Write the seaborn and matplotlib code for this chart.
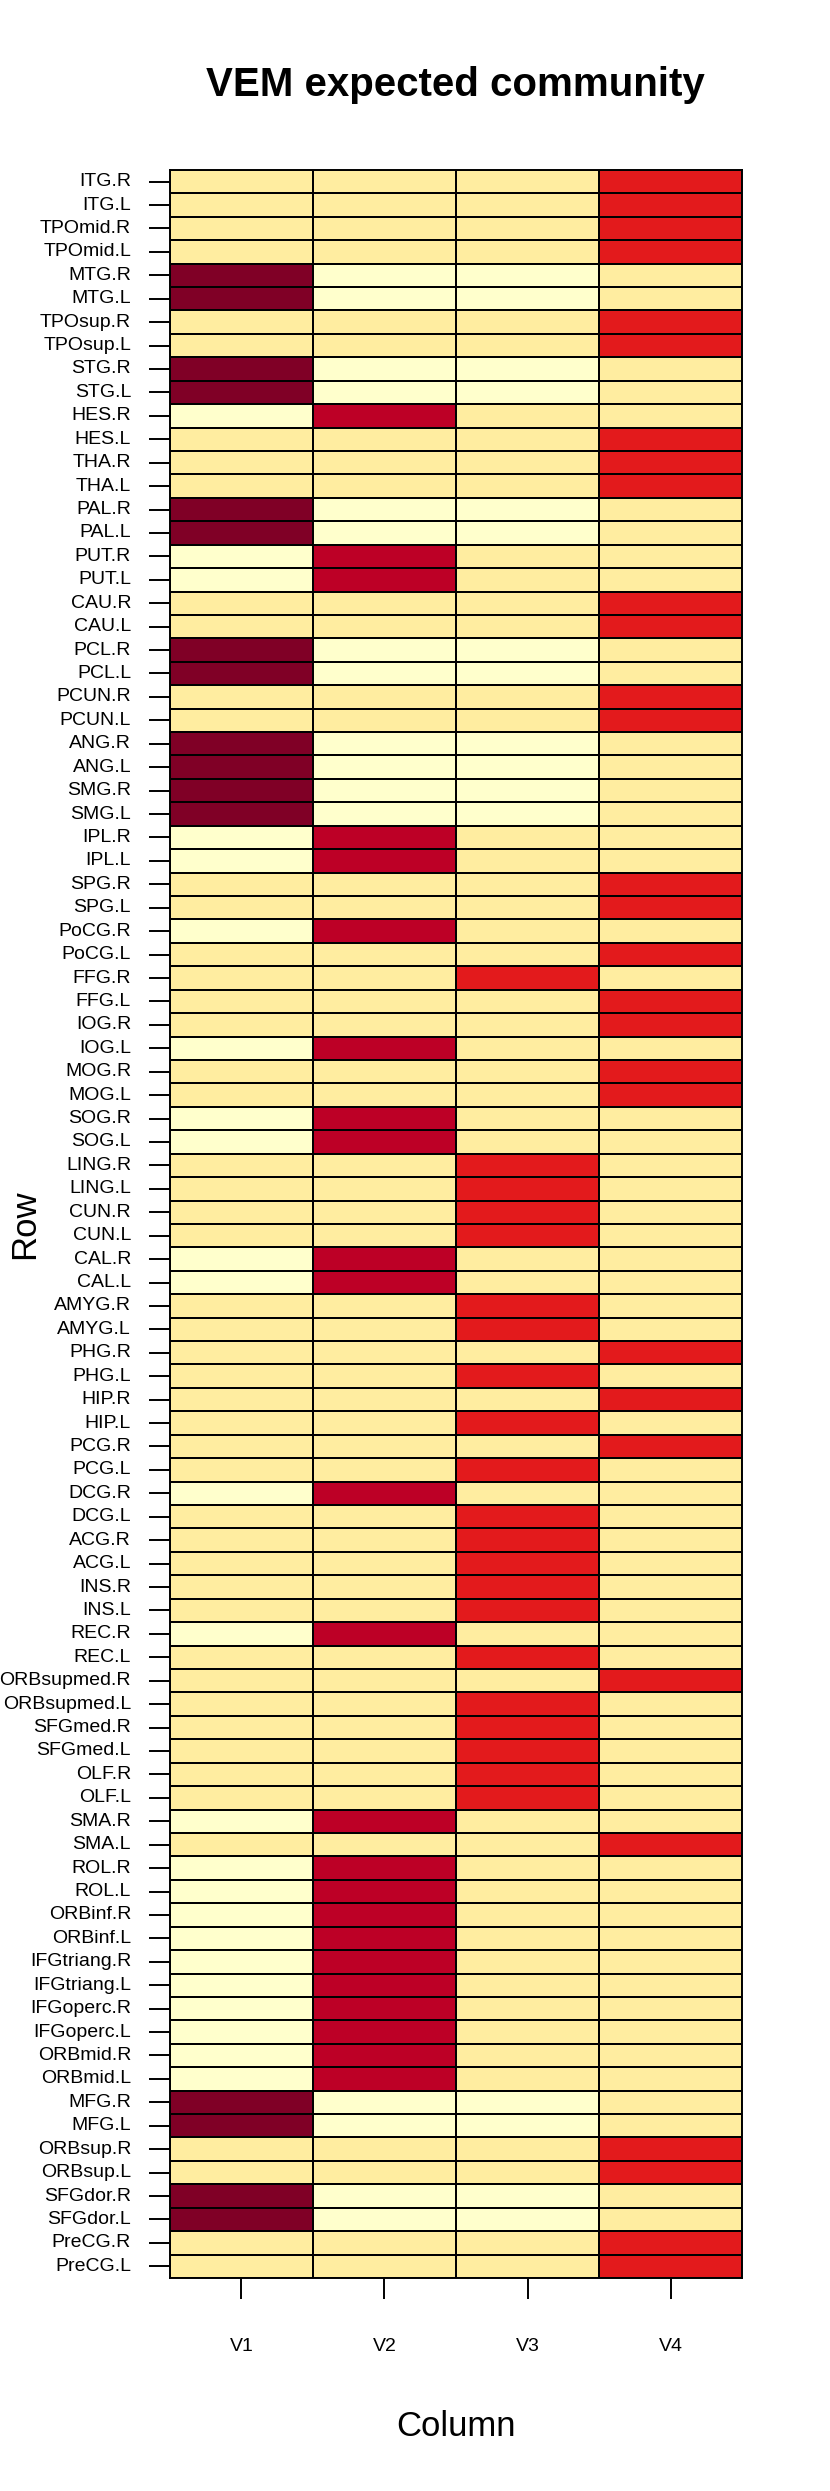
import pandas as pd
import matplotlib.pyplot as plt
import seaborn as sns
from matplotlib.colors import ListedColormap

# 행 라벨 (AAL 90 영역)
rows = ['ITG.R', 'ITG.L', 'TPOmid.R', 'TPOmid.L', 'MTG.R', 'MTG.L', 'TPOsup.R', 'TPOsup.L', 'STG.R', 'STG.L',
        'HES.R', 'HES.L', 'THA.R', 'THA.L', 'PAL.R', 'PAL.L', 'PUT.R', 'PUT.L', 'CAU.R', 'CAU.L',
        'PCL.R', 'PCL.L', 'PCUN.R', 'PCUN.L', 'ANG.R', 'ANG.L', 'SMG.R', 'SMG.L', 'IPL.R', 'IPL.L',
        'SPG.R', 'SPG.L', 'PoCG.R', 'PoCG.L', 'FFG.R', 'FFG.L', 'IOG.R', 'IOG.L', 'MOG.R', 'MOG.L',
        'SOG.R', 'SOG.L', 'LING.R', 'LING.L', 'CUN.R', 'CUN.L', 'CAL.R', 'CAL.L', 'AMYG.R', 'AMYG.L',
        'PHG.R', 'PHG.L', 'HIP.R', 'HIP.L', 'PCG.R', 'PCG.L', 'DCG.R', 'DCG.L', 'ACG.R', 'ACG.L',
        'INS.R', 'INS.L', 'REC.R', 'REC.L', 'ORBsupmed.R', 'ORBsupmed.L', 'SFGmed.R', 'SFGmed.L', 'OLF.R', 'OLF.L',
        'SMA.R', 'SMA.L', 'ROL.R', 'ROL.L', 'ORBinf.R', 'ORBinf.L', 'IFGtriang.R', 'IFGtriang.L', 'IFGoperc.R', 'IFGoperc.L',
        'ORBmid.R', 'ORBmid.L', 'MFG.R', 'MFG.L', 'ORBsup.R', 'ORBsup.L', 'SFGdor.R', 'SFGdor.L', 'PreCG.R', 'PreCG.L']

cols = ['V1', 'V2', 'V3', 'V4']

# 열별 값
v1 = [.15, .15, .15, .15, .95, .95, .15, .15, .95, .95,
      .05, .15, .15, .15, .95, .95, .05, .05, .15, .15,
      .95, .95, .15, .15, .95, .95, .95, .95, .05, .05,
      .15, .15, .05, .15, .15, .15, .15, .05, .15, .15,
      .05, .05, .15, .15, .15, .15, .05, .05, .15, .15,
      .15, .15, .15, .15, .15, .15, .05, .15, .15, .15,
      .15, .15, .05, .15, .15, .15, .15, .15, .15, .15,
      .05, .15, .05, .05, .05, .05, .05, .05, .05, .05,
      .05, .05, .95, .95, .15, .15, .95, .95, .15, .15]
v2 = [.15, .15, .15, .15, .05, .05, .15, .15, .05, .05,
      .83, .15, .15, .15, .05, .05, .83, .83, .15, .15,
      .05, .05, .15, .15, .05, .05, .05, .05, .83, .83,
      .15, .15, .83, .15, .15, .15, .15, .83, .15, .15,
      .83, .83, .15, .15, .15, .15, .83, .83, .15, .15,
      .15, .15, .15, .15, .15, .15, .83, .15, .15, .15,
      .15, .15, .83, .15, .15, .15, .15, .15, .15, .15,
      .83, .15, .83, .83, .83, .83, .83, .83, .83, .83,
      .83, .83, .05, .05, .15, .15, .05, .05, .15, .15]
v3 = [.15, .15, .15, .15, .05, .05, .15, .15, .05, .05,
      .15, .15, .15, .15, .05, .05, .15, .15, .15, .15,
      .05, .05, .15, .15, .05, .05, .05, .05, .15, .15,
      .15, .15, .15, .15, .72, .15, .15, .15, .15, .15,
      .15, .15, .72, .72, .72, .72, .15, .15, .72, .72,
      .15, .72, .15, .72, .15, .72, .15, .72, .72, .72,
      .72, .72, .15, .72, .15, .72, .72, .72, .72, .72,
      .15, .15, .15, .15, .15, .15, .15, .15, .15, .15,
      .15, .15, .05, .05, .15, .15, .05, .05, .15, .15]
v4 = [.72, .72, .72, .72, .15, .15, .72, .72, .15, .15,
      .15, .72, .72, .72, .15, .15, .15, .15, .72, .72,
      .15, .15, .72, .72, .15, .15, .15, .15, .15, .15,
      .72, .72, .15, .72, .15, .72, .72, .15, .72, .72,
      .15, .15, .15, .15, .15, .15, .15, .15, .15, .15,
      .72, .15, .72, .15, .72, .15, .15, .15, .15, .15,
      .15, .15, .15, .15, .72, .15, .15, .15, .15, .15,
      .15, .72, .15, .15, .15, .15, .15, .15, .15, .15,
      .15, .15, .15, .15, .72, .72, .15, .15, .72, .72]

df = pd.DataFrame({'V1': v1, 'V2': v2, 'V3': v3, 'V4': v4}, index=rows)

# YlOrRd 9단계 팔레트
ylorrd = ['#FFFFCC', '#FFEDA0', '#FED976', '#FEB24C', '#FD8D3C',
          '#FC4E2A', '#E31A1C', '#BD0026', '#800026']

sns.set_theme(style='white')
plt.rcParams['font.family'] = ['Liberation Sans', 'DejaVu Sans']
plt.rcParams['text.color'] = 'black'
plt.rcParams['axes.labelcolor'] = 'black'
plt.rcParams['xtick.color'] = 'black'
plt.rcParams['ytick.color'] = 'black'

fig = plt.figure(figsize=(8.3, 24.91), dpi=100)
ax = fig.add_axes([0.2048, 0.0855, 0.6892, 0.8463])

sns.heatmap(df, ax=ax, cmap=ListedColormap(ylorrd), vmin=0, vmax=1, cbar=False,
            linewidths=1.4, linecolor='black',
            xticklabels=cols, yticklabels=rows)

for sp in ax.spines.values():
    sp.set_visible(True)
    sp.set_color('black')
    sp.set_linewidth(1.4)

ax.tick_params(axis='y', direction='out', length=15, width=1.4, colors='black',
               pad=13, labelsize=14, left=True, labelrotation=0)
ax.tick_params(axis='x', direction='out', length=15, width=1.4, colors='black',
               pad=28, labelsize=14, bottom=True, labelrotation=0)

ax.set_xlabel('Column', fontsize=25, color='black')
ax.set_ylabel('Row', fontsize=25, color='black')
ax.xaxis.set_label_coords(0.5, -0.0702)
ax.xaxis.label.set_va('center')
ax.yaxis.set_label_coords(-0.2535, 0.5)
ax.yaxis.label.set_va('center')

fig.text(0.549, 0.966, 'VEM expected community', ha='center', va='center',
         fontsize=29, fontweight='bold', color='black')

plt.savefig('out.png', dpi=100)
plt.close()
